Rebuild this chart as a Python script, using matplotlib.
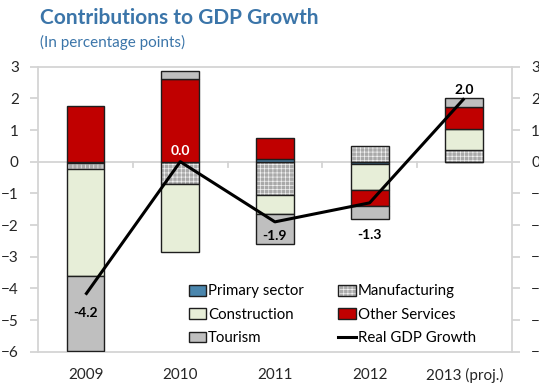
import matplotlib
matplotlib.use('Agg')
import numpy as np
import matplotlib.pyplot as plt
from matplotlib.patches import Patch
from matplotlib.lines import Line2D
from matplotlib.legend_handler import HandlerTuple

plt.rcParams['font.family'] = ['Lato', 'DejaVu Sans']
plt.rcParams['hatch.linewidth'] = 0.5

# ---------------------------------------------------------------
# Data (percentage points)
# ---------------------------------------------------------------
years = ['2009', '2010', '2011', '2012', '2013 (proj.)']
primary = [-0.05, 0.0, 0.10, -0.08, 0.0]
manufacturing = [-0.18, -0.70, -1.05, 0.50, 0.37]
construction = [-3.38, -2.15, -0.61, -0.80, 0.65]
other_services = [1.77, 2.60, 0.64, -0.53, 0.72]
tourism = [-2.36, 0.25, -0.95, -0.39, 0.28]
gdp = [-4.2, 0.0, -1.9, -1.3, 2.0]

# ---------------------------------------------------------------
# Colours
# ---------------------------------------------------------------
c_title = '#3b75a9'
c_primary = '#4a86ad'
c_manuf = '#a9a9a9'
c_constr = '#e7eed8'
c_other = '#c00000'
c_tour = '#bfbfbf'
c_edge = '#1e1e1e'
c_axis = '#d4d4d4'
c_text = '#262626'
manuf_hatch = '++++'

fig = plt.figure(figsize=(5.39, 3.86), dpi=100)
ax = fig.add_axes([0.0709, 0.0889, 0.8783, 0.7383])

x = np.arange(len(years))
w = 0.4

# stack positive and negative contributions separately
pos_base = np.zeros(len(years))
neg_base = np.zeros(len(years))
series = [(primary, c_primary, False), (manufacturing, c_manuf, True),
          (construction, c_constr, False), (other_services, c_other, False),
          (tourism, c_tour, False)]
for vals, col, hatched in series:
    vals = np.array(vals)
    base = np.where(vals >= 0, pos_base, neg_base)
    if hatched:
        # white hatch on grey, outline drawn separately
        ax.bar(x, vals, w, bottom=base, color=col, edgecolor='#f2f2f2',
               hatch=manuf_hatch, linewidth=0, zorder=2)
        ax.bar(x, vals, w, bottom=base, fill=False, edgecolor=c_edge,
               linewidth=1.0, zorder=3)
    else:
        ax.bar(x, vals, w, bottom=base, color=col, edgecolor=c_edge,
               linewidth=1.0, zorder=3)
    pos_base = pos_base + np.where(vals >= 0, vals, 0)
    neg_base = neg_base + np.where(vals < 0, vals, 0)

ax.plot(x, gdp, color='black', lw=2.2, zorder=5, solid_capstyle='butt')

# value labels for real GDP growth
offsets = [(0, -18), (0, 11), (0, -14), (0, -32), (0, 8)]
lcols = ['black', 'white', 'black', 'black', 'black']
for xi, v, off, lc in zip(x, gdp, offsets, lcols):
    ax.annotate('%.1f' % v, (xi, v), xytext=off, textcoords='offset pixels',
                ha='center', va='center', fontsize=10, fontweight='bold',
                color=lc, zorder=6)

# zero line with category separators
ax.axhline(0, color=c_axis, lw=1.3, zorder=1)
for b in np.arange(0.5, len(years) - 0.5, 1.0):
    ax.plot([b, b], [0, -0.17], color=c_axis, lw=1.3, zorder=1)

ax.set_xlim(-0.5, len(years) - 0.5)
ax.set_ylim(-6, 3)
ax.set_yticks(np.arange(-6, 4, 1))
ax.set_xticks(x)
ax.set_xticklabels(years)
for s in ax.spines.values():
    s.set_color(c_axis)
    s.set_linewidth(1.3)
ax.tick_params(axis='x', length=0, pad=12, labelsize=11, colors=c_text)
ax.tick_params(axis='y', length=6, width=1.3, color=c_axis, pad=8,
               labelsize=11, labelcolor=c_text, left=True, right=True,
               labelleft=True, labelright=True)

# legend
manuf_handle = (Patch(facecolor=c_manuf, edgecolor='#f2f2f2', hatch=manuf_hatch, lw=0),
                Patch(fill=False, edgecolor=c_edge, lw=1.0))
handles = [
    Patch(facecolor=c_primary, edgecolor=c_edge, lw=1.0),
    Patch(facecolor=c_constr, edgecolor=c_edge, lw=1.0),
    Patch(facecolor=c_tour, edgecolor=c_edge, lw=1.0),
    manuf_handle,
    Patch(facecolor=c_other, edgecolor=c_edge, lw=1.0),
    Line2D([0], [0], color='black', lw=2.2),
]
labels = ['Primary sector', 'Construction', 'Tourism',
          'Manufacturing', 'Other Services', 'Real GDP Growth']
fig.legend(handles, labels, ncol=2, frameon=False, fontsize=10.8,
           loc='upper left', bbox_to_anchor=(181 / 539, 1 - 277 / 386),
           borderpad=0, handlelength=1.15, handleheight=0.7,
           handletextpad=0.15, labelspacing=0.62, columnspacing=2.3,
           handler_map={tuple: HandlerTuple(ndivide=1, pad=0)})

fig.text(40 / 539, 1 - 18 / 386, 'Contributions to GDP Growth', fontsize=15,
         fontweight='bold', color=c_title, va='center', ha='left')
fig.text(40 / 539, 1 - 42 / 386, '(In percentage points)', fontsize=11,
         color=c_title, va='center', ha='left')

fig.savefig('out.png', dpi=100)
